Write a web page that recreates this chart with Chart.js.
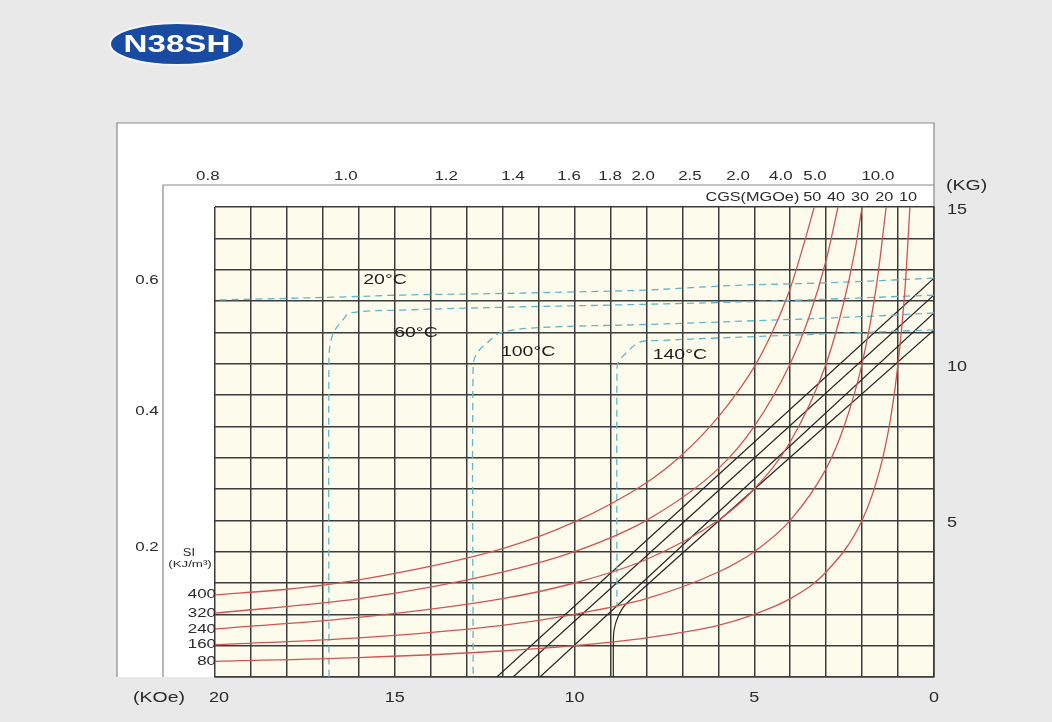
<!DOCTYPE html>
<html>
<head>
<meta charset="utf-8">
<script src="https://cdn.jsdelivr.net/npm/chart.js@4.4.1/dist/chart.umd.min.js"></script>
<style>
  html, body { margin: 0; padding: 0; background: #e9e9e9; }
  #wrap { width: 1052px; height: 722px; }
</style>
</head>
<body>
<div id="wrap"><canvas id="chart" width="1052" height="722"></canvas></div>
<script>
// energy product curves (H in KOe, B in KG)
const h50 = [20, 18, 16, 12, 10, 8, 7, 6, 5, 4.5, 4, 3.6, 3.33];
const b50 = [2.62, 2.8, 3.1, 4.1, 4.95, 6.2, 7.1, 8.3, 9.9, 11.0, 12.4, 13.9, 15];
const h40 = [20, 16, 12, 10, 8, 6, 5, 4, 3.5, 3, 2.67];
const b40 = [2.04, 2.5, 3.35, 4.0, 5.0, 6.65, 8.0, 10.0, 11.4, 13.3, 15];
const h30 = [20, 16, 12, 10, 8, 6, 5, 4, 3, 2.5, 2.2, 2];
const b30 = [1.53, 1.9, 2.5, 3.0, 3.75, 5.0, 6.0, 7.5, 10.0, 12.0, 13.6, 15];
const h20 = [20, 16, 12, 10, 8, 6, 5, 4, 3, 2.5, 2, 1.6, 1.33];
const b20 = [1.03, 1.25, 1.65, 2.0, 2.5, 3.35, 4.0, 5.0, 6.65, 8.0, 10.0, 12.5, 15];
const h10 = [20, 16, 12, 10, 8, 6, 5, 4, 3, 2, 1.5, 1.2, 1, 0.8, 0.67];
const b10 = [0.5, 0.62, 0.83, 1.0, 1.25, 1.65, 2.0, 2.5, 3.35, 5.0, 6.65, 8.3, 10.0, 12.5, 15];

const cgsLabels = ['50', '40', '30', '20', '10'];
const siLabels = ['400', '320', '240', '160', '80'];

// normal B-H lines per temperature
const hN20 = [0, 12.16];
const bN20 = [12.73, 0];
const hN60 = [0, 11.71];
const bN60 = [12.19, 0];
const hN100 = [0, 10.96];
const bN100 = [11.62, 0];
const hN140 = [0, 8.54, 8.78, 8.9, 8.92, 8.92];
const bN140 = [11.08, 2.36, 1.95, 1.5, 1.0, 0];

// intrinsic curves per temperature (dashed)
const hJ20 = [0, 3, 5.5, 8, 10, 12, 14.8, 16.4, 20];
const bJ20 = [12.73, 12.58, 12.5, 12.35, 12.29, 12.24, 12.19, 12.13, 12.03];
const hJ60 = [0, 2, 4.5, 6, 9, 12, 14.8, 16.24, 16.44, 16.66, 16.77, 16.83, 16.83];
const bJ60 = [12.19, 12.1, 12.0, 11.95, 11.87, 11.8, 11.71, 11.62, 11.4, 11.08, 10.76, 10.2, 0];
const hJ100 = [0, 2, 5, 8, 11, 12.07, 12.43, 12.71, 12.82, 12.82];
const bJ100 = [11.62, 11.5, 11.37, 11.25, 11.15, 10.98, 10.66, 10.34, 9.9, 0];
const hJ140 = [0, 3, 6, 7.6, 8.18, 8.54, 8.79, 8.82, 8.82];
const bJ140 = [11.08, 10.95, 10.82, 10.74, 10.69, 10.37, 10.02, 9.6, 2.23];

const tempLabels = ['20°C', '60°C', '100°C', '140°C'];

// top and left auxiliary tick labels
const topTickLabels = ['0.8', '1.0', '1.2', '1.4', '1.6', '1.8', '2.0', '2.5', '2.0', '4.0', '5.0', '10.0'];
const topTickH = [20.2, 16.36, 13.57, 11.71, 10.15, 9.01, 8.09, 6.79, 5.45, 4.26, 3.31, 1.56];
const leftTickLabels = ['0.6', '0.4', '0.2'];
const leftTickB = [12.67, 8.49, 4.12];

const xTickValues = [20, 15, 10, 5, 0];
const yTickValues = [15, 10, 5];

function pts(hs, bs) {
  return hs.map((h, i) => ({ x: h, y: bs[i] }));
}

const FONT = '"Liberation Sans", Arial, sans-serif';
const RED = '#cf5553';
const CYAN = '#5fb7c9';
const BLACK = '#262626';
const SX = 1.25; // the lettering in the picture is drawn wide

const energySets = [[h50, b50], [h40, b40], [h30, b30], [h20, b20], [h10, b10]];
const normalSets = [[hN20, bN20], [hN60, bN60], [hN100, bN100], [hN140, bN140]];
const intrinsicSets = [[hJ20, bJ20], [hJ60, bJ60], [hJ100, bJ100], [hJ140, bJ140]];

const datasets = [];
energySets.forEach(([h, b], i) => {
  datasets.push({
    label: cgsLabels[i] + ' MGOe',
    data: pts(h, b),
    borderColor: RED,
    borderWidth: 1.3,
    cubicInterpolationMode: 'monotone',
    pointRadius: 0
  });
});
intrinsicSets.forEach(([h, b], i) => {
  datasets.push({
    label: 'J ' + tempLabels[i],
    data: pts(h, b),
    borderColor: CYAN,
    borderWidth: 1.3,
    borderDash: [7, 5],
    tension: 0.35,
    pointRadius: 0
  });
});
normalSets.forEach(([h, b], i) => {
  datasets.push({
    label: 'B ' + tempLabels[i],
    data: pts(h, b),
    borderColor: BLACK,
    borderWidth: 1.2,
    tension: 0.3,
    pointRadius: 0
  });
});

// draws text widened horizontally
function wide(ctx, s, x, y, align, sx) {
  ctx.save();
  ctx.translate(x, y);
  ctx.scale(sx || SX, 1);
  ctx.textAlign = align;
  ctx.fillText(s, 0, 0);
  ctx.restore();
}

const decor = {
  id: 'decor',
  beforeDraw(chart) {
    const ctx = chart.ctx;
    const a = chart.chartArea;
    ctx.save();
    ctx.fillStyle = '#e9e9e9';
    ctx.fillRect(0, 0, chart.width, chart.height);
    // white frame
    ctx.fillStyle = '#ffffff';
    ctx.fillRect(a.left - 98, a.top - 84, a.right - a.left + 98, a.bottom - a.top + 84);
    ctx.strokeStyle = '#8a8a8a';
    ctx.lineWidth = 1.2;
    ctx.beginPath();
    ctx.moveTo(a.left - 98, a.bottom);
    ctx.lineTo(a.left - 98, a.top - 84);
    ctx.lineTo(a.right, a.top - 84);
    ctx.lineTo(a.right, a.bottom);
    ctx.moveTo(a.left - 52, a.bottom);
    ctx.lineTo(a.left - 52, a.top - 22);
    ctx.lineTo(a.right, a.top - 22);
    ctx.stroke();
    // plot fill
    ctx.fillStyle = '#fdfcec';
    ctx.fillRect(a.left, a.top, a.right - a.left, a.bottom - a.top);

    // title badge
    ctx.beginPath();
    ctx.ellipse(177, 44, 67, 21, 0, 0, Math.PI * 2);
    ctx.fillStyle = '#1a4ba3';
    ctx.fill();
    ctx.lineWidth = 2;
    ctx.strokeStyle = '#f4f6fb';
    ctx.stroke();
    ctx.fillStyle = '#ffffff';
    ctx.font = 'bold 24px ' + FONT;
    ctx.textBaseline = 'middle';
    wide(ctx, 'N38SH', 177, 45, 'center', 1.38);
    ctx.restore();
  },
  afterDatasetsDraw(chart) {
    const ctx = chart.ctx;
    const xs = chart.scales.x;
    const ys = chart.scales.y;
    const a = chart.chartArea;
    ctx.save();
    ctx.fillStyle = '#2a2a2a';
    ctx.textBaseline = 'middle';

    // main axis tick labels
    ctx.font = '15px ' + FONT;
    xTickValues.forEach(v => {
      wide(ctx, String(v), xs.getPixelForValue(v) + (v === 20 ? 4 : 0), a.bottom + 21, 'center', 1.2);
    });
    yTickValues.forEach(v => {
      wide(ctx, String(v), a.right + 13, ys.getPixelForValue(v) + 3, 'left', 1.2);
    });
    wide(ctx, '(KOe)', a.left - 56, a.bottom + 21, 'center', 1.3);
    wide(ctx, '(KG)', a.right + 12, a.top - 21, 'left', 1.3);

    // top auxiliary labels
    ctx.font = '13px ' + FONT;
    topTickLabels.forEach((t, i) => {
      wide(ctx, t, xs.getPixelForValue(topTickH[i]), a.top - 31, 'center', 1.3);
    });
    // left auxiliary labels
    leftTickLabels.forEach((t, i) => {
      wide(ctx, t, a.left - 68, ys.getPixelForValue(leftTickB[i]), 'center', 1.3);
    });

    // CGS labels at the top of each energy curve
    energySets.forEach(([h], i) => {
      wide(ctx, cgsLabels[i], xs.getPixelForValue(h[h.length - 1]) - 2, a.top - 10, 'center');
    });
    wide(ctx, 'CGS(MGOe)', xs.getPixelForValue(h50[h50.length - 1]) - 15, a.top - 10, 'right');

    // SI labels at the left end of each energy curve
    energySets.forEach(([h, b], i) => {
      wide(ctx, siLabels[i], a.left + 1, ys.getPixelForValue(b[0]), 'right', 1.3);
    });
    ctx.font = '10px ' + FONT;
    wide(ctx, 'SI', a.left - 26, ys.getPixelForValue(3.95), 'center', 1.3);
    ctx.font = '9.5px ' + FONT;
    wide(ctx, '(KJ/m³)', a.left - 25, ys.getPixelForValue(3.58), 'center', 1.4);

    // temperature labels
    ctx.font = '15px ' + FONT;
    ctx.fillStyle = '#1e1e1e';
    const tempAt = [[15.27, 12.67], [14.41, 10.98], [11.29, 10.37], [7.07, 10.28]];
    tempLabels.forEach((t, i) => {
      wide(ctx, t, xs.getPixelForValue(tempAt[i][0]), ys.getPixelForValue(tempAt[i][1]), 'center', 1.3);
    });
    ctx.restore();
  }
};

new Chart(document.getElementById('chart'), {
  type: 'line',
  data: { datasets },
  options: {
    responsive: false,
    animation: false,
    devicePixelRatio: 1,
    layout: { padding: { left: 215, top: 207, right: 0, bottom: 0 } },
    plugins: { legend: { display: false }, tooltip: { enabled: false } },
    scales: {
      x: {
        type: 'linear',
        reverse: true,
        min: 0,
        max: 20,
        afterFit: s => { s.height = 45; },
        afterBuildTicks: s => {
          s.ticks = Array.from({ length: 21 }, (_, i) => ({ value: i }));
        },
        grid: { color: '#3c3c3c', lineWidth: 1.5, drawTicks: false },
        border: { display: true, color: '#3c3c3c', width: 1.5 },
        ticks: { display: false }
      },
      y: {
        type: 'linear',
        position: 'right',
        min: 0,
        max: 15,
        afterFit: s => { s.width = 118; },
        afterBuildTicks: s => {
          s.ticks = Array.from({ length: 16 }, (_, i) => ({ value: i }));
        },
        grid: { color: '#3c3c3c', lineWidth: 1.5, drawTicks: false },
        border: { display: true, color: '#3c3c3c', width: 1.5 },
        ticks: { display: false }
      }
    }
  },
  plugins: [decor]
});
</script>
</body>
</html>
